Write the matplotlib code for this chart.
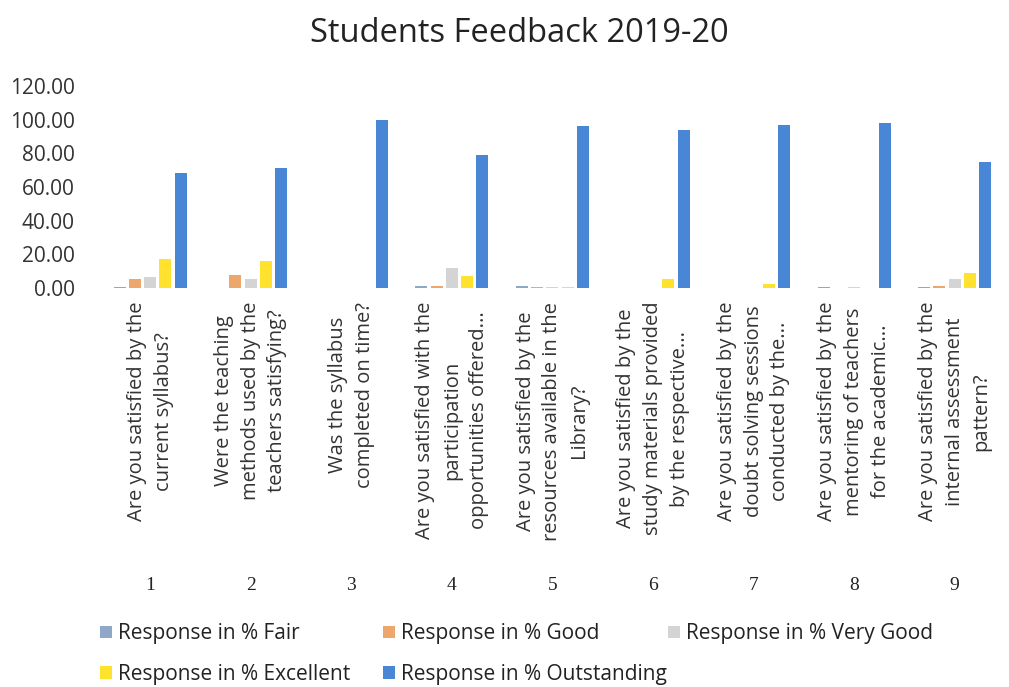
import numpy as np
import matplotlib
matplotlib.use("Agg")
import matplotlib.pyplot as plt
import matplotlib.transforms as mtransforms

# data
questions = [
    "Are you satisfied by the\ncurrent syllabus?",
    "Were the teaching\nmethods used by the\nteachers satisfying?",
    "Was the syllabus\ncompleted on time?",
    "Are you satisfied with the\nparticipation\nopportunities offered...",
    "Are you satisfied by the\nresources available in the\nLibrary?",
    "Are you satisfied by the\nstudy materials provided\nby the respective...",
    "Are you satisfied by the\ndoubt solving sessions\nconducted by the...",
    "Are you satisfied by the\nmentoring of teachers\nfor the academic...",
    "Are you satisfied by the\ninternal assessment\npattern?",
]
numbers = ["1", "2", "3", "4", "5", "6", "7", "8", "9"]

series_names = ["Response in % Fair", "Response in % Good", "Response in % Very Good",
                "Response in % Excellent", "Response in % Outstanding"]
fair = [0.5, 0.0, 0.0, 1.0, 1.0, 0.0, 0.0, 0.3, 0.5]
good = [5.0, 7.5, 0.0, 1.0, 0.5, 0.0, 0.0, 0.0, 1.0]
very_good = [6.5, 5.0, 0.0, 12.0, 0.5, 0.0, 0.0, 0.5, 5.0]
excellent = [17.0, 16.0, 0.0, 7.0, 0.5, 5.5, 2.5, 0.0, 9.0]
outstanding = [68.0, 71.0, 100.0, 79.0, 96.0, 94.0, 97.0, 98.0, 75.0]

colors = ["#8EA9C8", "#EDA66C", "#D4D4D4", "#FFE22E", "#4A86D6"]

plt.rcParams['font.family'] = ['Open Sans', 'DejaVu Sans']
plt.rcParams['text.color'] = '#222222'

fig = plt.figure(figsize=(10.09, 6.87), dpi=100, facecolor='white')
ax = fig.add_axes([0.099, 0.581, 0.897, 0.294])

x = np.arange(len(questions))
pitch = 0.152
width = 0.12
handles = []
for i, (vals, c) in enumerate(zip([fair, good, very_good, excellent, outstanding], colors)):
    b = ax.bar(x + (i - 2) * pitch, vals, width, color=c, label=series_names[i])
    handles.append(b)

ax.set_xlim(-0.5, len(questions) - 0.5)
ax.set_ylim(0, 120)
ax.set_yticks(np.arange(0, 121, 20))
ax.set_yticklabels([f"{v:.2f}" for v in np.arange(0, 121, 20)], fontsize=15, color='#333333')
ax.tick_params(axis='y', length=0, pad=18)
ax.set_xticks(x)
ax.set_xticklabels(questions, rotation=90, fontsize=14.5, ha='center', va='top',
                   multialignment='center', color='#333333', linespacing=1.45)
ax.tick_params(axis='x', length=0, pad=10)
for s in ax.spines.values():
    s.set_visible(False)

# category numbers below the question labels
trans = mtransforms.blended_transform_factory(ax.transData, fig.transFigure)
for xi, n in zip(x, numbers):
    fig.text(xi, 1 - 585 / 687, n, transform=trans, ha='center', va='center',
             fontsize=14, family=['Liberation Serif', 'DejaVu Serif'], color='#222222')

fig.suptitle("Students Feedback 2019-20", x=0.515, y=1 - 33 / 687, va='center',
             fontsize=23.5, color='#222222')

# legend laid out in three fixed-width columns like the original
columns = [[0, 3], [1, 4], [2]]
col_x = [92, 375, 660]
for idx, cx in zip(columns, col_x):
    fig.legend([handles[i] for i in idx], [series_names[i] for i in idx],
               loc='upper left', bbox_to_anchor=(cx / 1009, 1 - 615 / 687),
               frameon=False, fontsize=15, handlelength=0.55, handleheight=0.55,
               handletextpad=0.3, labelspacing=0.95, borderaxespad=0)

fig.savefig("out.png", dpi=100, facecolor='white')
